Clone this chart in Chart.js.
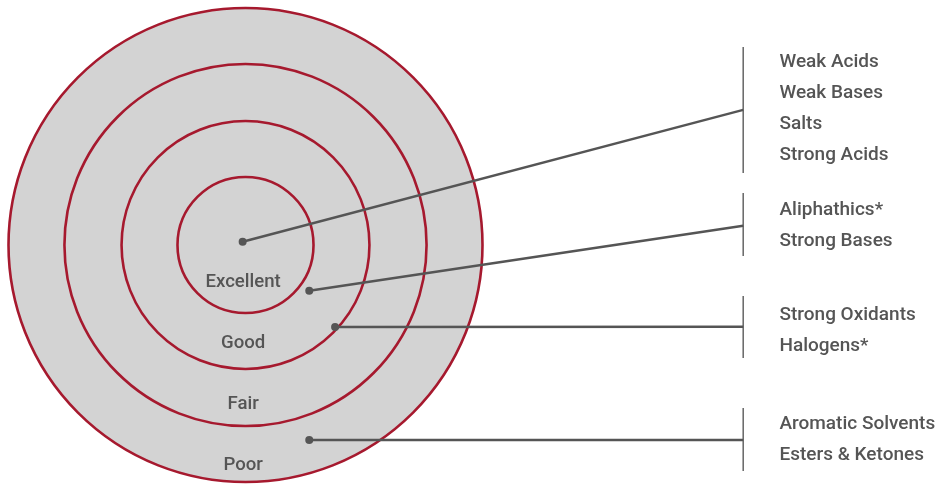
<!DOCTYPE html>
<html>
<head>
<meta charset="utf-8">
<script src="https://cdn.jsdelivr.net/npm/chart.js@4"></script>
<style>
body{margin:0;background:#fff;}
#wrap{width:938px;height:484px;position:relative;}
</style>
</head>
<body>
<div id="wrap"><canvas id="ringChart"></canvas></div>
<script>

// Rings (outer ring radius = 100 units), inner first

const ringNames = ["Excellent","Good","Fair","Poor"];
const ringRadii = [28.7,52.3,76.4,100];
const ringLabelY = [-17.6,-43.5,-69.3,-94.9];

// Callouts: dot inside a ring -> bracket on the right

const groupItems = [
["Weak Acids","Weak Bases","Salts","Strong Acids"],
["Aliphathics*","Strong Bases"],
["Strong Oxidants","Halogens*"],
["Aromatic Solvents","Esters & Ketones"]
];
const dotX = [-1.2,26.9,37.8,26.9];
const dotY = [1.4,-19.3,-34.6,-82.3];
const lineEndY = [57.0,8.1,-34.5,-82.3];
const bracketX = 210;
const bracketTop = [83.5,21.9,-21.5,-68.8];
const bracketBottom = [30.4,-4.6,-47.7,-95.4];
const textX = 225.3;
const firstBaselineY = [75.2,12.7,-31.6,-77.5];

const textColor = "#555555";
const ringColor = "#a6192e";
const fillColor = "#d3d3d3";

// chart.js keeps ~4px round the plot for the dots, so the axis range is set for that

const inset = 4;
const pxPerUnit = 2.37;
const centerPx = {x:245.5,y:245};
const xMin = -(centerPx.x-inset)/pxPerUnit;
const xMax = xMin + (938-2*inset)/pxPerUnit;
const yMax = (centerPx.y-inset)/pxPerUnit;
const yMin = yMax - (484-2*inset)/pxPerUnit;

let datasets = [];

for(let i=0;i<groupItems.length;i++){

datasets.push({
data:[{x:dotX[i],y:dotY[i]},{x:bracketX,y:lineEndY[i]}],
showLine:true,
borderColor:"#555555",
borderWidth:2.5,
pointRadius:[4,0],
pointHoverRadius:0,
pointBackgroundColor:"#555555",
pointBorderWidth:0,
pointHoverBorderWidth:0
});

datasets.push({
data:[{x:bracketX,y:bracketTop[i]},{x:bracketX,y:bracketBottom[i]}],
showLine:true,
borderColor:"#666666",
borderWidth:1.5,
pointRadius:0,
pointHoverRadius:0,
pointBorderWidth:0,
pointHoverBorderWidth:0
});

}

// draws the rings under the callout lines, then the texts on top

const ringsPlugin = {
id:"rings",
beforeDatasetsDraw(chart){
const ctx = chart.ctx;
const x = chart.scales.x;
const y = chart.scales.y;
const cx = x.getPixelForValue(0);
const cy = y.getPixelForValue(0);
ctx.save();
for(let i=ringRadii.length-1;i>=0;i--){
const r = x.getPixelForValue(ringRadii[i]) - cx;
ctx.beginPath();
ctx.arc(cx,cy,r,0,Math.PI*2);
ctx.fillStyle = fillColor;
ctx.fill();
ctx.lineWidth = 2.6;
ctx.strokeStyle = ringColor;
ctx.stroke();
}
ctx.font = "500 18.6px Roboto";
ctx.fillStyle = textColor;
ctx.textAlign = "center";
ctx.textBaseline = "alphabetic";
for(let i=0;i<ringNames.length;i++){
ctx.fillText(ringNames[i],x.getPixelForValue(-1),y.getPixelForValue(ringLabelY[i]));
}
ctx.restore();
},
afterDatasetsDraw(chart){
const ctx = chart.ctx;
const x = chart.scales.x;
const y = chart.scales.y;
ctx.save();
ctx.font = "500 19px Roboto";
ctx.fillStyle = textColor;
ctx.textAlign = "left";
ctx.textBaseline = "alphabetic";
const lineH = 31;
for(let i=0;i<groupItems.length;i++){
const top = y.getPixelForValue(firstBaselineY[i]);
for(let j=0;j<groupItems[i].length;j++){
ctx.fillText(groupItems[i][j],x.getPixelForValue(textX),top + j*lineH);
}
}
ctx.restore();
}
};

new Chart(
document.getElementById("ringChart"),
{
type:"scatter",
data:{datasets:datasets},
options:{
responsive:true,
maintainAspectRatio:false,
animation:false,
events:[],
layout:{padding:0},
plugins:{
legend:{display:false},
tooltip:{enabled:false}
},
scales:{
x:{type:"linear",min:xMin,max:xMax,display:false},
y:{type:"linear",min:yMin,max:yMax,display:false}
}
},
plugins:[ringsPlugin]
}
);

</script>
</body>
</html>
